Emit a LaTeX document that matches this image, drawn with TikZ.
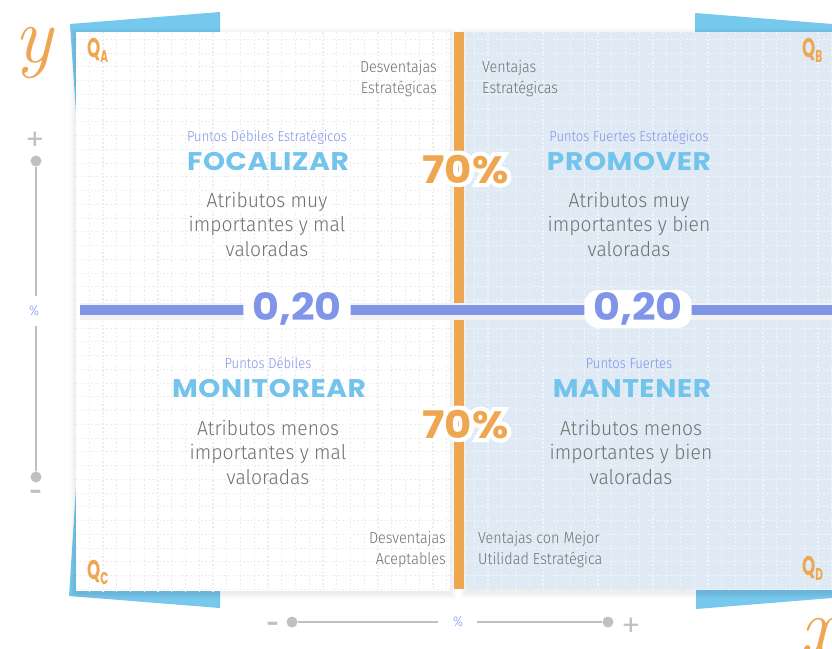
\documentclass[tikz,border=0pt]{standalone}
\usepackage{fontspec}
\usetikzlibrary{calc}

% Typefaces
\newfontfamily\popf{Poppins}
\newfontfamily\popwide{Poppins}[FakeStretch=1.1]
\newfontfamily\popglow{Poppins}[FakeStretch=1.1, FakeBold=22]
\newfontfamily\pophead{Poppins}[FakeStretch=1.1, LetterSpace=2.5]
\newfontfamily\popq{Poppins}[FakeStretch=0.62]
\newfontfamily\thinf{Fira Sans Light}[FakeStretch=0.9]
\newfontfamily\bodyf{Fira Sans Light}[FakeStretch=0.95]

% Palette
\definecolor{tabblue}{RGB}{118,200,236}
\definecolor{headblue}{RGB}{114,196,236}
\definecolor{peri}{RGB}{128,148,232}
\definecolor{orangeb}{RGB}{238,166,80}
\definecolor{paleblue}{RGB}{224,234,245}
\definecolor{txtgray}{RGB}{112,112,112}
\definecolor{axisgray}{RGB}{192,192,192}
\definecolor{gridonwhite}{RGB}{236,236,236}
\definecolor{gridonblue}{RGB}{242,246,251}

\tikzset{
  gridw/.style={gridonwhite, line width=1.1pt, dash pattern=on 1.6pt off 2.2pt},
  gridb/.style={gridonblue, line width=1.1pt, dash pattern=on 1.6pt off 2.2pt},
  sidelabel/.style={inner sep=0pt, text=txtgray, font=\thinf\fontsize{16}{21}\selectfont},
  subhead/.style={inner sep=0pt, text=peri, font=\thinf\fontsize{14.5}{16}\selectfont},
  headline/.style={inner sep=0pt, text=headblue, font=\pophead\bfseries\fontsize{25.5}{26}\selectfont},
  bodytext/.style={inner sep=0pt, text=txtgray, align=center, font=\bodyf\fontsize{20.3}{24.5}\selectfont},
  pill/.style={fill=white, rounded corners=14pt, inner xsep=9pt, inner ysep=4pt,
    text height=26pt, text depth=4pt, text=peri, font=\popwide\bfseries\fontsize{37.5}{38}\selectfont},
  bigpct/.style={inner sep=0pt, text=orangeb, font=\popwide\bfseries\fontsize{38}{38}\selectfont},
  pctglow/.style={inner sep=0pt, text=white, font=\popglow\bfseries\fontsize{38}{38}\selectfont},
  qlabel/.style={inner sep=0pt, text=orangeb, font=\popq\bfseries\fontsize{27}{27}\selectfont},
  axissign/.style={inner sep=0pt, text=axisgray, font=\popf\fontsize{28}{28}\selectfont},
  axisminus/.style={inner sep=0pt, text=axisgray, font=\popf\bfseries\fontsize{22}{22}\selectfont},
  axispct/.style={inner sep=0pt, text=peri, font=\thinf\fontsize{14}{14}\selectfont},
  axisdot/.style={circle, fill=axisgray, inner sep=0pt, minimum size=11pt},
  axisline/.style={axisgray, line width=2pt},
  cursive/.style={inner sep=0pt, text=orangeb, font=\itshape\fontsize{80}{80}\selectfont},
}

\newcommand\qsub[1]{\raisebox{-5pt}{\fontsize{17}{17}\selectfont #1}}

\begin{document}
\begin{tikzpicture}[x=1pt,y=-1pt]
  \fill[white] (0,0) rectangle (832,648);
  \useasboundingbox (0,0) rectangle (832,648);

  % tilted blue sheets peeking out behind the panels
  \fill[tabblue] (70,24) -- (220,12) -- (220,40) -- (76.5,120) -- cycle;
  \fill[tabblue] (69,596) -- (220,608) -- (220,580) -- (76.5,480) -- cycle;
  \fill[tabblue] (695,13) -- (832,24) -- (832,40) -- (695,40) -- cycle;
  \fill[tabblue] (696,609) -- (832,598) -- (832,580) -- (696,580) -- cycle;

  % soft shadows of the two panels
  \foreach \s in {1,...,6} {
    \fill[black, opacity=0.012] ({76-\s},{32-\s+2}) rectangle ({450+\s},{591+\s+2});
    \fill[black, opacity=0.012] ({466-\s},{32-\s+2}) rectangle (832,{590+\s+2});
  }

  % panels
  \fill[white] (76,32) rectangle (450,591);
  \fill[paleblue] (466,32) rectangle (832,590);

  % dotted grid on both panels
  \begin{scope}
    \clip (76,32) rectangle (450,591);
    \foreach \i in {0,...,28} \draw[gridw] ({75.5+13.75*\i},32) -- ++(0,560);
    \foreach \j in {0,...,40} \draw[gridw] (76,{39.3+13.75*\j}) -- ++(375,0);
  \end{scope}
  \begin{scope}
    \clip (466,32) rectangle (832,590);
    \foreach \i in {28,...,56} \draw[gridb] ({75.5+13.75*\i},32) -- ++(0,560);
    \foreach \j in {0,...,40} \draw[gridb] (466,{39.3+13.75*\j}) -- ++(366,0);
  \end{scope}

  % orange divider
  \fill[orangeb] (454,32) rectangle (464,589);

  % periwinkle divider with its shadow band
  \fill[black!5] (80,302.5) rectangle (832,320);
  \fill[peri] (80,305) rectangle (832,315);

  % quadrant tags
  \node[qlabel, anchor=base west] (qa) at (87,57) {Q\qsub{A}};
  \node[qlabel, anchor=base west] (qb) at (802,57) {Q\qsub{B}};
  \node[qlabel, anchor=base west] (qc) at (87,579) {Q\qsub{C}};
  \node[qlabel, anchor=base west] (qd) at (802,575) {Q\qsub{D}};

  % side notes next to the orange divider (anchored on their last line)
  \node[sidelabel, align=right, anchor=base east] (dest) at (437,93) {Desventajas\\Estratégicas};
  \node[sidelabel, align=left, anchor=base west] (vest) at (482,93) {Ventajas\\Estratégicas};
  \node[sidelabel, align=right, anchor=base east] (dacep) at (446,564) {Desventajas\\Aceptables};
  \node[sidelabel, align=left, anchor=base west] (vmej) at (478,564) {Ventajas con Mejor\\Utilidad Estratégica};

  % quadrant A
  \node[subhead, anchor=base] (subA) at (267,141) {Puntos Débiles Estratégicos};
  \node[headline, anchor=base] (headA) at (268,170) {FOCALIZAR};
  \node[bodytext, anchor=base] (bodyA) at (267,256) {Atributos muy\\importantes y mal\\valoradas};

  % quadrant B
  \node[subhead, anchor=base] (subB) at (629,141) {Puntos Fuertes Estratégicos};
  \node[headline, anchor=base] (headB) at (629,170) {PROMOVER};
  \node[bodytext, anchor=base] (bodyB) at (629,256) {Atributos muy\\importantes y bien\\valoradas};

  % quadrant C
  \node[subhead, anchor=base] (subC) at (268,368) {Puntos Débiles};
  \node[headline, anchor=base] (headC) at (269,397) {MONITOREAR};
  \node[bodytext, anchor=base] (bodyC) at (268,484) {Atributos menos\\importantes y mal\\valoradas};

  % quadrant D
  \node[subhead, anchor=base] (subD) at (629,368) {Puntos Fuertes};
  \node[headline, anchor=base] (headD) at (632,397) {MANTENER};
  \node[bodytext, anchor=base] (bodyD) at (631,484) {Atributos menos\\importantes y bien\\valoradas};

  % thresholds
  \node[pill, anchor=base] (thrL) at (297,320) {0,20};
  \node[pill, anchor=base] (thrR) at (638,320) {0,20};
  \node[pctglow, anchor=base] (glowT) at (465.5,183) {70\%};
  \node[bigpct, anchor=base] (pctT) at (465.5,183) {70\%};
  \node[pctglow, anchor=base] (glowB) at (465.5,438) {70\%};
  \node[bigpct, anchor=base] (pctB) at (465.5,438) {70\%};

  % vertical scale
  \node[axissign] (vplus) at (35,141) {+};
  \node[axisdot] (vtop) at (36,161) {};
  \node[axispct] (vpct) at (34,311) {\%};
  \node[axisdot] (vbot) at (36,477) {};
  \node[axisminus, anchor=base] (vminus) at (36,499) {-};
  \coordinate (vgapT) at (36,296);
  \coordinate (vgapB) at (36,326);
  \draw[axisline] (vtop) -- (vgapT);
  \draw[axisline] (vgapB) -- (vbot);

  % horizontal scale
  \node[axisminus, anchor=base] (hminus) at (273,631.5) {-};
  \node[axisdot] (hleft) at (292,622) {};
  \node[axispct] (hpct) at (458,622) {\%};
  \node[axisdot] (hright) at (608,622) {};
  \node[axissign] (hplus) at (631,627) {+};
  \coordinate (hgapL) at (438,622);
  \coordinate (hgapR) at (477,622);
  \draw[axisline] (hleft) -- (hgapL);
  \draw[axisline] (hgapR) -- (hright);

  % axis letters
  \node[cursive, anchor=base] (ylet) at (33,62) {y};
  \node[cursive, anchor=base] (xlet) at (818,653) {x};
\end{tikzpicture}
\end{document}
